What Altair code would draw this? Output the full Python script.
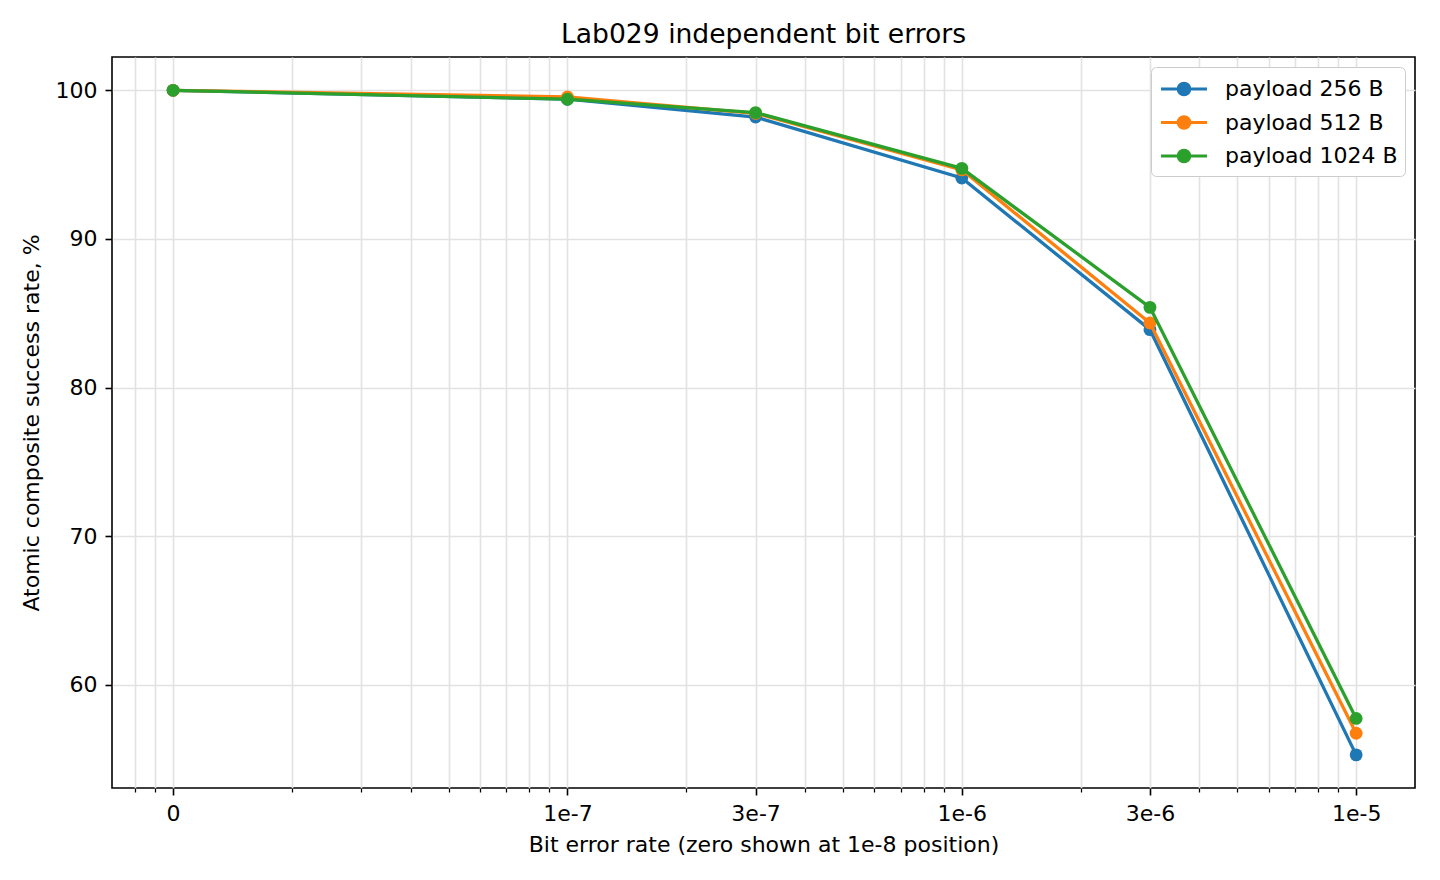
import altair as alt
import pandas as pd

# ---- data ----
ber_positions = [1e-8, 1e-7, 3e-7, 1e-6, 3e-6, 1e-5]
ber_labels = ["0", "1e-7", "3e-7", "1e-6", "3e-6", "1e-5"]
series_names = ["payload 256 B", "payload 512 B", "payload 1024 B"]
series_colors = ["#1f77b4", "#ff7f0e", "#2ca02c"]
rate_256 = [100.0, 99.4, 98.2, 94.1, 83.9, 55.3]
rate_512 = [100.0, 99.55, 98.45, 94.65, 84.35, 56.75]
rate_1024 = [100.0, 99.4, 98.5, 94.75, 85.4, 57.75]
x_all_ticks = [8e-9, 9e-9,
               1e-8, 2e-8, 3e-8, 4e-8, 5e-8, 6e-8, 7e-8, 8e-8, 9e-8,
               1e-7, 2e-7, 3e-7, 4e-7, 5e-7, 6e-7, 7e-7, 8e-7, 9e-7,
               1e-6, 2e-6, 3e-6, 4e-6, 5e-6, 6e-6, 7e-6, 8e-6, 9e-6,
               1e-5]
y_ticks = [60, 70, 80, 90, 100]
x_domain = [7.0e-9, 1.41e-5]
y_domain = [53.07, 102.24]

rows = []
for name, vals in zip(series_names, [rate_256, rate_512, rate_1024]):
    for xv, yv in zip(ber_positions, vals):
        rows.append({"ber": xv, "rate": yv, "series": name})
df = pd.DataFrame(rows)

FONT = "DejaVu Sans"
FS = 22
label_expr = " : ".join(f"datum.value == {v!r} ? '{l}'" for v, l in zip(ber_positions, ber_labels)) + " : ''"
major_test = " || ".join(f"datum.value == {v!r}" for v in ber_positions)

def circ(r):
    return f"M{-r},0A{r},{r} 0 1,0 {r},0A{r},{r} 0 1,0 {-r},0Z"

symbol_path = "M-1.77,0H1.77" + circ(0.115) + circ(0.288) + circ(0.438)

x_enc = alt.X(
    "ber:Q",
    scale=alt.Scale(type="log", domain=x_domain, nice=False),
    axis=alt.Axis(
        values=x_all_ticks,
        labelExpr=label_expr,
        title="Bit error rate (zero shown at 1e-8 position)",
        grid=True,
        tickColor="black",
        tickWidth={"condition": {"test": major_test, "value": 1.6}, "value": 1.25},
        tickSize={"condition": {"test": major_test, "value": 7}, "value": 4},
        labelPadding=8,
        labelFlush=False,
        labelOverlap=False,
        titlePadding=10,
    ),
)
y_enc = alt.Y(
    "rate:Q",
    scale=alt.Scale(domain=y_domain, nice=False, zero=False),
    axis=alt.Axis(
        values=y_ticks,
        title="Atomic composite success rate, %",
        grid=True,
        tickColor="black",
        tickWidth=1.6,
        tickSize=7,
        labelPadding=8,
        titlePadding=12,
    ),
)
color_enc = alt.Color(
    "series:N",
    scale=alt.Scale(domain=series_names, range=series_colors),
    legend=alt.Legend(
        title=None,
        orient="top-right",
        offset=10,
        symbolType=symbol_path,
        symbolSize=676,
        symbolStrokeWidth=3.2,
        symbolOffset=11,
        labelOffset=26,
        labelLimit=500,
        labelFont=FONT,
        labelFontSize=FS,
        labelColor="black",
        padding=7,
        rowPadding=5.5,
        fillColor="white",
        strokeColor="#cccccc",
        cornerRadius=5,
    ),
)

layers = []
for name in series_names:
    base = alt.Chart(df).transform_filter(alt.datum.series == name)
    layers.append(base.mark_line(strokeWidth=3.3).encode(x=x_enc, y=y_enc, color=color_enc))
    layers.append(base.mark_point(filled=True, size=165, opacity=1).encode(x=x_enc, y=y_enc, color=color_enc))

chart = alt.layer(*layers).properties(
    width=1303,
    height=731,
    title=alt.TitleParams(
        "Lab029 independent bit errors",
        font=FONT,
        fontSize=26.6,
        fontWeight="normal",
        color="black",
        baseline="alphabetic",
        offset=14.7,
        dy=27,
        frame="group",
        anchor="middle",
    ),
    autosize=alt.AutoSizeParams(type="none"),
    padding={"left": 104, "top": 49, "right": 17, "bottom": 84},
).configure_view(
    stroke="black", strokeWidth=1.6
).configure_axis(
    domain=False,
    gridColor="#e2e2e2",
    gridWidth=1.6,
    labelFont=FONT,
    labelFontSize=FS,
    labelColor="black",
    titleFont=FONT,
    titleFontSize=FS,
    titleFontWeight="normal",
    titleColor="black",
)

chart.save("out.html", embed_options={"renderer": "svg", "actions": False})
